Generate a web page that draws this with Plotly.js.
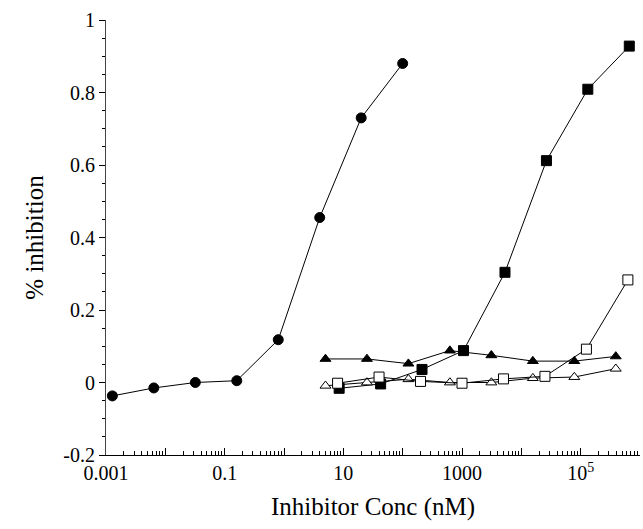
<!DOCTYPE html>
<html>
<head>
<meta charset="utf-8">
<script src="https://cdn.plot.ly/plotly-3.0.1.min.js"></script>
<style>html,body{margin:0;padding:0;background:#fff;}#chart{width:643px;height:529px;}</style>
</head>
<body>
<div id="chart"></div>
<script>
// Filled circles
const circleX = [0.00128, 0.0064, 0.032, 0.16, 0.8, 4, 20, 100];
const circleY = [-0.037, -0.015, 0.0, 0.005, 0.118, 0.455, 0.73, 0.88];
// Filled squares
const fSquareX = [8.5, 42.5, 212, 1060, 5300, 26500, 132000, 660000];
const fSquareY = [-0.016, -0.004, 0.036, 0.088, 0.304, 0.612, 0.809, 0.928];
// Open squares
const oSquareX = [8, 40, 200, 1000, 5000, 25000, 125000, 625000];
const oSquareY = [-0.002, 0.015, 0.003, -0.002, 0.010, 0.017, 0.092, 0.283];
// Filled triangles
const fTriX = [5, 25, 125, 625, 3125, 15625, 78125, 390625];
const fTriY = [0.065, 0.065, 0.052, 0.088, 0.075, 0.059, 0.059, 0.072];
// Open triangles
const oTriX = [5, 25, 125, 625, 3125, 15625, 78125, 390625];
const oTriY = [-0.009, 0.0, 0.009, 0.0, 0.0, 0.012, 0.015, 0.038];

// Axis ticks
const xTickVals = [0.001, 0.1, 10, 1000, 100000];
const xTickText = ['0.001', '0.1', '10', '1000', '10<sup>5</sup>'];
const xOddDecades = [0.01, 1, 100, 10000, 1000000];
const yTickVals = [-0.2, 0, 0.2, 0.4, 0.6, 0.8, 1];
const yTickText = ['-0.2', '0', '0.2', '0.4', '0.6', '0.8', '1'];

const lineStyle = {color: '#000', width: 1};
function tr(x, y, symbol, fill, size) {
  return {
    x: x, y: y, type: 'scatter', mode: 'lines+markers',
    line: lineStyle, cliponaxis: false,
    marker: {symbol: symbol, size: size, color: fill, line: {color: '#000', width: 1}},
    showlegend: false, hoverinfo: 'skip'
  };
}

const data = [
  tr(circleX, circleY, 'circle', '#000', 10),
  tr(fSquareX, fSquareY, 'square', '#000', 10),
  tr(fTriX, fTriY, 'triangle-up', '#000', 9.5),
  tr(oTriX, oTriY, 'triangle-up', '#fff', 9.5),
  tr(oSquareX, oSquareY, 'square', '#fff', 10),
  {x: [], y: [], type: 'scatter', mode: 'markers', xaxis: 'x2', showlegend: false, hoverinfo: 'skip'}
];

const fam = 'Liberation Serif, Times New Roman, serif';

const layout = {
  width: 643, height: 529,
  margin: {l: 106, r: 3, t: 20, b: 74},
  paper_bgcolor: '#fff', plot_bgcolor: '#fff',
  font: {family: fam, color: '#000'},
  xaxis: {
    type: 'log', range: [-3, 6],
    tickmode: 'array', tickvals: xTickVals, ticktext: xTickText,
    ticks: 'inside', ticklen: 7, tickwidth: 1, tickcolor: '#000',
    minor: {dtick: 'D1', ticks: 'inside', ticklen: 4, tickwidth: 1, tickcolor: '#000', showgrid: false},
    showline: true, linecolor: '#000', linewidth: 1,
    showgrid: false, zeroline: false,
    tickfont: {family: fam, size: 20, color: '#000'},
    title: {text: 'Inhibitor Conc (nM)', font: {family: fam, size: 25, color: '#000'}, standoff: 14}
  },
  xaxis2: {
    type: 'log', range: [-3, 6], overlaying: 'x', side: 'bottom', anchor: 'y',
    tickmode: 'array', tickvals: xOddDecades, showticklabels: false,
    ticks: 'inside', ticklen: 7, tickwidth: 1, tickcolor: '#000',
    showline: false, showgrid: false, zeroline: false
  },
  yaxis: {
    range: [-0.2, 1],
    tickmode: 'array', tickvals: yTickVals, ticktext: yTickText,
    ticks: 'outside', ticklen: 6, tickwidth: 1, tickcolor: '#000',
    minor: {dtick: 0.05, ticks: 'outside', ticklen: 3, tickwidth: 1, tickcolor: '#000', showgrid: false},
    showline: true, linecolor: '#444', linewidth: 1,
    showgrid: false, zeroline: false,
    tickfont: {family: fam, size: 20, color: '#000'},
    title: {text: '% inhibition', font: {family: fam, size: 25, color: '#000'}, standoff: 12}
  }
};

Plotly.newPlot('chart', data, layout, {staticPlot: true});
</script>
</body>
</html>
